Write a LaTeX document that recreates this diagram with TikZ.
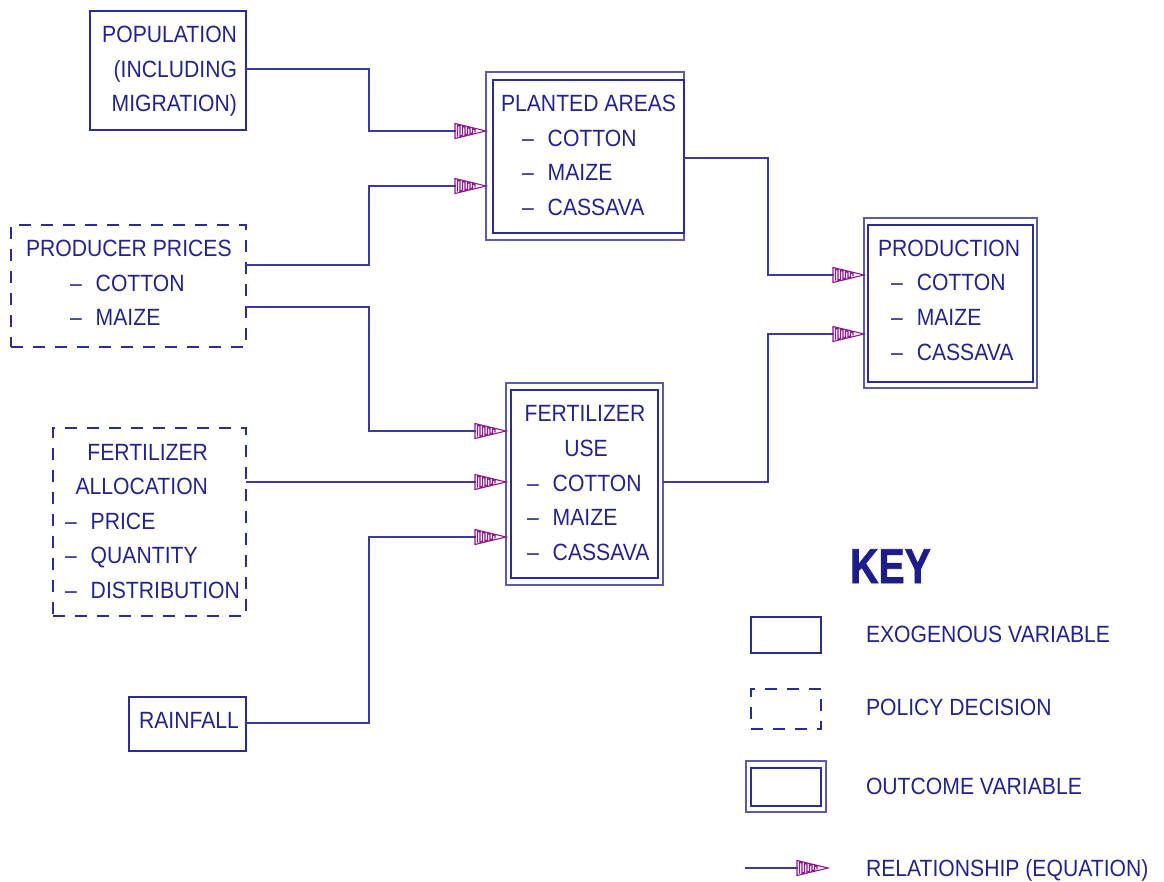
\documentclass[tikz,border=0pt]{standalone}
\usepackage{fontspec}
\setmainfont{Liberation Sans}[FakeStretch=0.9]
\newfontfamily\keyfont{Liberation Sans}[FakeStretch=0.8,FakeBold=1.5]
\usetikzlibrary{arrows.meta}

\definecolor{ink}{HTML}{23238F}
\definecolor{wire}{HTML}{3A3AA0}
\definecolor{frame}{HTML}{2C2C96}
\definecolor{frameout}{HTML}{5A5AB0}
\definecolor{arrowc}{HTML}{8E188C}
\definecolor{keyblue}{HTML}{1C1C8A}

% Hatched "relationship" arrow head: open triangle filled with a meander
\pgfdeclarearrow{
  name = Hatch,
  setup code = {
    \pgfarrowssettipend{0pt}
    \pgfarrowssetbackend{-31pt}
    \pgfarrowssetlineend{-30.5pt}
    \pgfarrowsupperhullpoint{-31pt}{7.5pt}
    \pgfarrowsupperhullpoint{0pt}{0pt}
  },
  drawing code = {
    \pgfsetstrokecolor{arrowc}
    \pgfsetlinewidth{1.1pt}
    \pgfsetdash{}{0pt}
    \pgfpathmoveto{\pgfpoint{-31pt}{7.5pt}}
    \pgfpathlineto{\pgfpoint{0pt}{0pt}}
    \pgfpathlineto{\pgfpoint{-31pt}{-7.5pt}}
    \pgfpathclose
    \pgfpathmoveto{\pgfpoint{-28.5pt}{-5.6pt}}
    \pgfpathlineto{\pgfpoint{-28.5pt}{5.6pt}}
    \pgfpathlineto{\pgfpoint{-26pt}{5.0pt}}
    \pgfpathlineto{\pgfpoint{-26pt}{-5.0pt}}
    \pgfpathlineto{\pgfpoint{-23.5pt}{-4.4pt}}
    \pgfpathlineto{\pgfpoint{-23.5pt}{4.4pt}}
    \pgfpathlineto{\pgfpoint{-21pt}{3.8pt}}
    \pgfpathlineto{\pgfpoint{-21pt}{-3.8pt}}
    \pgfpathlineto{\pgfpoint{-18.5pt}{-3.2pt}}
    \pgfpathlineto{\pgfpoint{-18.5pt}{3.2pt}}
    \pgfpathlineto{\pgfpoint{-16pt}{2.6pt}}
    \pgfpathlineto{\pgfpoint{-16pt}{-2.6pt}}
    \pgfpathlineto{\pgfpoint{-13.5pt}{-2.0pt}}
    \pgfpathlineto{\pgfpoint{-13.5pt}{2.0pt}}
    \pgfpathlineto{\pgfpoint{-11pt}{1.4pt}}
    \pgfpathlineto{\pgfpoint{-11pt}{-1.4pt}}
    \pgfusepathqstroke
  },
  defaults = {}
}

\tikzset{
  box/.style={draw=frame, line width=1.1pt, inner sep=0pt, outer sep=0pt,
              anchor=north west, rectangle},
  policy/.style={box, dash pattern=on 12pt off 10pt},
  outerbox/.style={box, draw=frameout, line width=1.1pt},
  lbl/.style={text=ink, inner sep=0pt, outer sep=0pt,
              font=\fontsize{23.5}{28}\selectfont},
  rel/.style={draw=wire, line width=1.1pt, -{Hatch}},
}
\newcommand{\dashitem}[1]{--\kern14pt #1}

\begin{document}
\begin{tikzpicture}[x=1pt,y=-1pt]
\useasboundingbox (0,0) rectangle (1164,882);

% ---- boxes ----
\node[box, minimum width=156pt, minimum height=119pt] (pop) at (90,11) {};
\node[outerbox, minimum width=198pt, minimum height=168pt] (pa) at (486,72) {};
\node[box, minimum width=191pt, minimum height=153pt] (pai) at (493,80) {};
\node[policy, minimum width=235pt, minimum height=122pt] (pp) at (11,225) {};
\node[policy, minimum width=193pt, minimum height=188pt] (fa) at (53,428) {};
\node[box, minimum width=117pt, minimum height=54pt] (rain) at (129,697) {};
\node[outerbox, minimum width=157pt, minimum height=202pt] (fu) at (506,383) {};
\node[box, minimum width=147pt, minimum height=188pt] (fui) at (511,390) {};
\node[outerbox, minimum width=173pt, minimum height=170pt] (prod) at (864,218) {};
\node[box, minimum width=165pt, minimum height=157pt] (prodi) at (868,225) {};

% ---- box texts ----
\node[lbl, anchor=base east] (pop1) at (237,43) {POPULATION};
\node[lbl, anchor=base east] (pop2) at (237,77.5) {(INCLUDING};
\node[lbl, anchor=base east] (pop3) at (237,112) {MIGRATION)};

\node[lbl, anchor=base west] (pa1) at (501,112) {PLANTED\ AREAS};
\node[lbl, anchor=base west] (pa2) at (522,146.5) {\dashitem{COTTON}};
\node[lbl, anchor=base west] (pa3) at (522,181) {\dashitem{MAIZE}};
\node[lbl, anchor=base west] (pa4) at (522,215.5) {\dashitem{CASSAVA}};

\node[lbl, anchor=base west] (pp1) at (26,257) {PRODUCER\ PRICES};
\node[lbl, anchor=base west] (pp2) at (70,291.5) {\dashitem{COTTON}};
\node[lbl, anchor=base west] (pp3) at (70,326) {\dashitem{MAIZE}};

\node[lbl, anchor=base east] (fa1) at (208,460) {FERTILIZER};
\node[lbl, anchor=base east] (fa2) at (208,494.5) {ALLOCATION};
\node[lbl, anchor=base west] (fa3) at (65,529) {\dashitem{PRICE}};
\node[lbl, anchor=base west] (fa4) at (65,563.5) {\dashitem{QUANTITY}};
\node[lbl, anchor=base west] (fa5) at (65,598) {\dashitem{DISTRIBUTION}};

\node[lbl, anchor=base west] (rain1) at (139,728) {RAINFALL};

\node[lbl, anchor=base] (fu1) at (585,421.5) {FERTILIZER};
\node[lbl, anchor=base] (fu2) at (586,456.5) {USE};
\node[lbl, anchor=base west] (fu3) at (527,491) {\dashitem{COTTON}};
\node[lbl, anchor=base west] (fu4) at (527,525.5) {\dashitem{MAIZE}};
\node[lbl, anchor=base west] (fu5) at (527,560) {\dashitem{CASSAVA}};

\node[lbl, anchor=base west] (pr1) at (878,256.5) {PRODUCTION};
\node[lbl, anchor=base west] (pr2) at (891,291) {\dashitem{COTTON}};
\node[lbl, anchor=base west] (pr3) at (891,325.5) {\dashitem{MAIZE}};
\node[lbl, anchor=base west] (pr4) at (891,360) {\dashitem{CASSAVA}};

% ---- relationships ----
\draw[rel] (pop.east |- 0,69) -- (369,69) |- (pa.west |- 0,131);
\draw[rel] (pp.east |- 0,265) -- (369,265) |- (pa.west |- 0,186);
\draw[rel] (pp.east |- 0,307) -- (369,307) |- (fu.west |- 0,431);
\draw[rel] (fa.east |- 0,482) -- (fu.west |- 0,482);
\draw[rel] (rain.east |- 0,723) -- (369,723) |- (fu.west |- 0,537);
\draw[rel] (pa.east |- 0,158) -- (768,158) |- (prod.west |- 0,275);
\draw[rel] (fu.east |- 0,482) -- (768,482) |- (prod.west |- 0,334);

% ---- key ----
\node[anchor=base west, inner sep=0pt, text=keyblue,
      font=\keyfont\bfseries\fontsize{49}{52}\selectfont] (key) at (850,583) {KEY};

\node[box, minimum width=70pt, minimum height=36pt] (kexo) at (751,617) {};
\node[policy, minimum width=70pt, minimum height=40pt] (kpol) at (751,689) {};
\node[outerbox, minimum width=80pt, minimum height=51pt] (kout) at (746,761) {};
\node[box, minimum width=70pt, minimum height=38pt] (kouti) at (751,768) {};
\coordinate (krs) at (745,868);
\coordinate (kre) at (828,868);
\draw[rel] (krs) -- (kre);

\node[lbl, anchor=base west] (kexot) at (866,642.5) {EXOGENOUS\ VARIABLE};
\node[lbl, anchor=base west] (kpolt) at (866,715.5) {POLICY\ DECISION};
\node[lbl, anchor=base west] (koutt) at (866,794.5) {OUTCOME\ VARIABLE};
\node[lbl, anchor=base west] (krelt) at (866,876.5) {RELATIONSHIP\ (EQUATION)};
\end{tikzpicture}
\end{document}
